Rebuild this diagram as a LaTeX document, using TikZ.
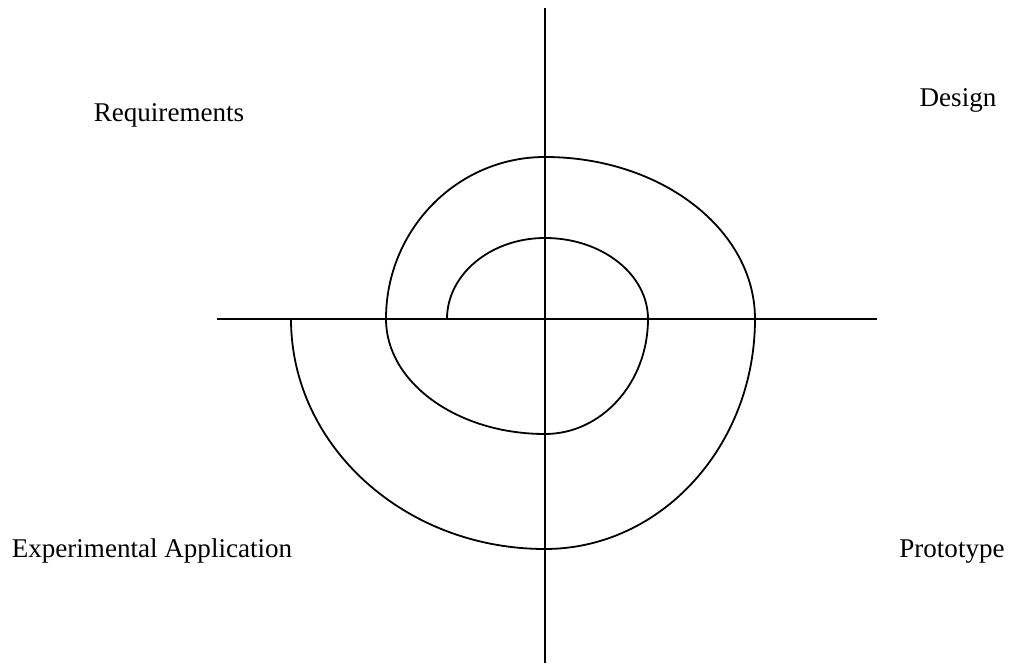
\documentclass[tikz,border=0pt]{standalone}
\usepackage{fontspec}
\setmainfont{Liberation Serif}
\begin{document}
\begin{tikzpicture}[x=0.75pt, y=0.75pt, line width=1.35pt,
    every node/.style={font=\fontsize{20.3}{24}\selectfont, inner sep=0pt, anchor=base}]
  \useasboundingbox (-545,-347) rectangle (465,319);
  % axes, crossing at the origin
  \coordinate (top) at (0,311); \coordinate (bottom) at (0,-344);
  \coordinate (left) at (-328,0); \coordinate (right) at (332,0);
  \draw (top) -- (bottom);
  \draw (left) -- (right);
  % spiral: quarter ellipses, growing outward
  \draw (-98,0) arc[start angle=180, end angle=90, x radius=98, y radius=81]
    arc[start angle=90, end angle=0, x radius=103, y radius=81]
    arc[start angle=0, end angle=-90, x radius=103, y radius=115]
    arc[start angle=270, end angle=180, x radius=159, y radius=115]
    arc[start angle=180, end angle=90, x radius=159, y radius=162]
    arc[start angle=90, end angle=0, x radius=210, y radius=162]
    arc[start angle=0, end angle=-90, x radius=210, y radius=230]
    arc[start angle=270, end angle=180, x radius=254, y radius=230];
  \node (req) at (-376,197) {Requirements};
  \node (des) at (413,212) {Design};
  \node (exp) at (-393,-239) {Experimental Application};
  \node (pro) at (407,-239) {Prototype};
\end{tikzpicture}
\end{document}
